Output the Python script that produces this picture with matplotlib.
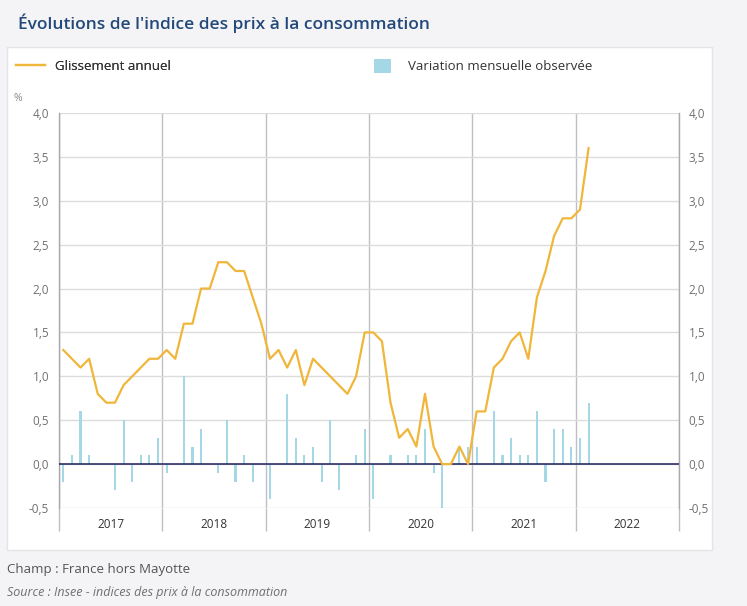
import matplotlib.pyplot as plt
import numpy as np
from matplotlib.patches import Rectangle, Patch
from matplotlib.lines import Line2D
from matplotlib.ticker import FixedLocator, FuncFormatter, NullFormatter

plt.rcParams['font.family'] = ['Open Sans', 'DejaVu Sans']

# data: monthly, jan 2017 -> feb 2022
years = ['2017', '2018', '2019', '2020', '2021', '2022']
glissement = [1.3, 1.2, 1.1, 1.2, 0.8, 0.7, 0.7, 0.9, 1.0, 1.1, 1.2, 1.2,
              1.3, 1.2, 1.6, 1.6, 2.0, 2.0, 2.3, 2.3, 2.2, 2.2, 1.9, 1.6,
              1.2, 1.3, 1.1, 1.3, 0.9, 1.2, 1.1, 1.0, 0.9, 0.8, 1.0, 1.5,
              1.5, 1.4, 0.7, 0.3, 0.4, 0.2, 0.8, 0.2, 0.0, 0.0, 0.2, 0.0,
              0.6, 0.6, 1.1, 1.2, 1.4, 1.5, 1.2, 1.9, 2.2, 2.6, 2.8, 2.8,
              2.9, 3.6]
variation = [-0.2, 0.1, 0.6, 0.1, 0.0, 0.0, -0.3, 0.5, -0.2, 0.1, 0.1, 0.3,
             -0.1, 0.0, 1.0, 0.2, 0.4, 0.0, -0.1, 0.5, -0.2, 0.1, -0.2, 0.0,
             -0.4, 0.0, 0.8, 0.3, 0.1, 0.2, -0.2, 0.5, -0.3, 0.0, 0.1, 0.4,
             -0.4, 0.0, 0.1, 0.0, 0.1, 0.1, 0.4, -0.1, -0.5, 0.0, 0.2, 0.2,
             0.2, 0.0, 0.6, 0.1, 0.3, 0.1, 0.1, 0.6, -0.2, 0.4, 0.4, 0.2,
             0.3, 0.7]
yticks = [-0.5, 0.0, 0.5, 1.0, 1.5, 2.0, 2.5, 3.0, 3.5, 4.0]

# colors
c_line = '#f0b63a'
c_bar = '#a5d8e6'
c_grid = '#dcdcdc'
c_year = '#bfbfc6'
c_title = '#23487a'

W, H = 747, 606
fig = plt.figure(figsize=(W/100, H/100), dpi=100, facecolor='#f4f4f6')

def fx(px):
    return px / W

def fy(py):
    return 1 - py / H

# white panel (behind everything)
fig.patches.append(Rectangle((fx(7), fy(550)), fx(712) - fx(7), fy(47) - fy(550),
                             transform=fig.transFigure, facecolor='white',
                             edgecolor='#e4e4e8', lw=1, zorder=-10))

ax = fig.add_axes([fx(59), fy(508), fx(679) - fx(59), fy(113) - fy(508)])
ax.set_zorder(1)
ax.set_facecolor('white')

x = np.arange(len(glissement)) + 0.5
ax.bar(x, variation, width=0.25, color=c_bar, zorder=2)
ax.axhline(0, color='#1d1f5a', lw=1.1, zorder=3)
ax.plot(x, glissement, color=c_line, lw=1.6, zorder=4)

ax.set_xlim(0, 12 * len(years))
ax.set_ylim(-0.5, 4.0)

# y axis both sides
ax.yaxis.set_major_locator(FixedLocator(yticks))
ax.yaxis.set_major_formatter(FuncFormatter(lambda v, p: f'{v:.1f}'.replace('.', ',')))
ax.tick_params(axis='y', length=0, labelleft=True, labelright=True, pad=7,
               labelsize=8.5, labelcolor='#707070')
ax.grid(axis='y', color=c_grid, lw=1, zorder=1)

# x axis: year separators as long ticks, labels mid-year
ax.xaxis.set_major_locator(FixedLocator(np.arange(0, 12 * len(years) + 1, 12)))
ax.xaxis.set_major_formatter(NullFormatter())
ax.xaxis.set_minor_locator(FixedLocator(np.arange(6, 12 * len(years), 12)))
ax.xaxis.set_minor_formatter(FuncFormatter(lambda v, p: years[int(v // 12)]))
ax.tick_params(axis='x', which='major', length=16.5, width=1, color=c_year)
ax.tick_params(axis='x', which='minor', length=0, pad=7, labelsize=8.5,
               labelcolor='#333333')
ax.grid(axis='x', which='major', color=c_year, lw=1, zorder=1)
ax.set_axisbelow(True)

for s in ['top', 'bottom']:
    ax.spines[s].set_visible(False)
for s in ['left', 'right']:
    ax.spines[s].set_color('#a8a8b0')
    ax.spines[s].set_linewidth(1)

# texts
fig.text(fx(18), fy(29), "Évolutions de l'indice des prix à la consommation",
         fontsize=12.5, fontweight='semibold', color=c_title, va='baseline')
fig.text(fx(14), fy(101), '%', fontsize=7.5, color='#8a8a8a', va='baseline')
fig.text(fx(7), fy(573), 'Champ : France hors Mayotte', fontsize=9.5,
         color='#555555', va='baseline')
fig.text(fx(7), fy(596), 'Source : Insee - indices des prix à la consommation',
         fontsize=9, style='italic', color='#707070', va='baseline')

# legend
leg1 = fig.legend(handles=[Line2D([], [], color=c_line, lw=1.6)],
                  labels=['Glissement annuel'], loc='center left',
                  bbox_to_anchor=(fx(4), fy(66)), frameon=False,
                  handlelength=2.2, handletextpad=0.8, fontsize=9.5,
                  labelcolor='#333333')
fig.legend(handles=[Patch(facecolor=c_bar, edgecolor='none')],
           labels=['Variation mensuelle observée'], loc='center left',
           bbox_to_anchor=(fx(362), fy(66)), frameon=False,
           handlelength=1.3, handleheight=1.3, handletextpad=1.3, fontsize=9.5,
           labelcolor='#333333')
fig.add_artist(leg1)

fig.savefig('out.png', dpi=100, facecolor=fig.get_facecolor())
